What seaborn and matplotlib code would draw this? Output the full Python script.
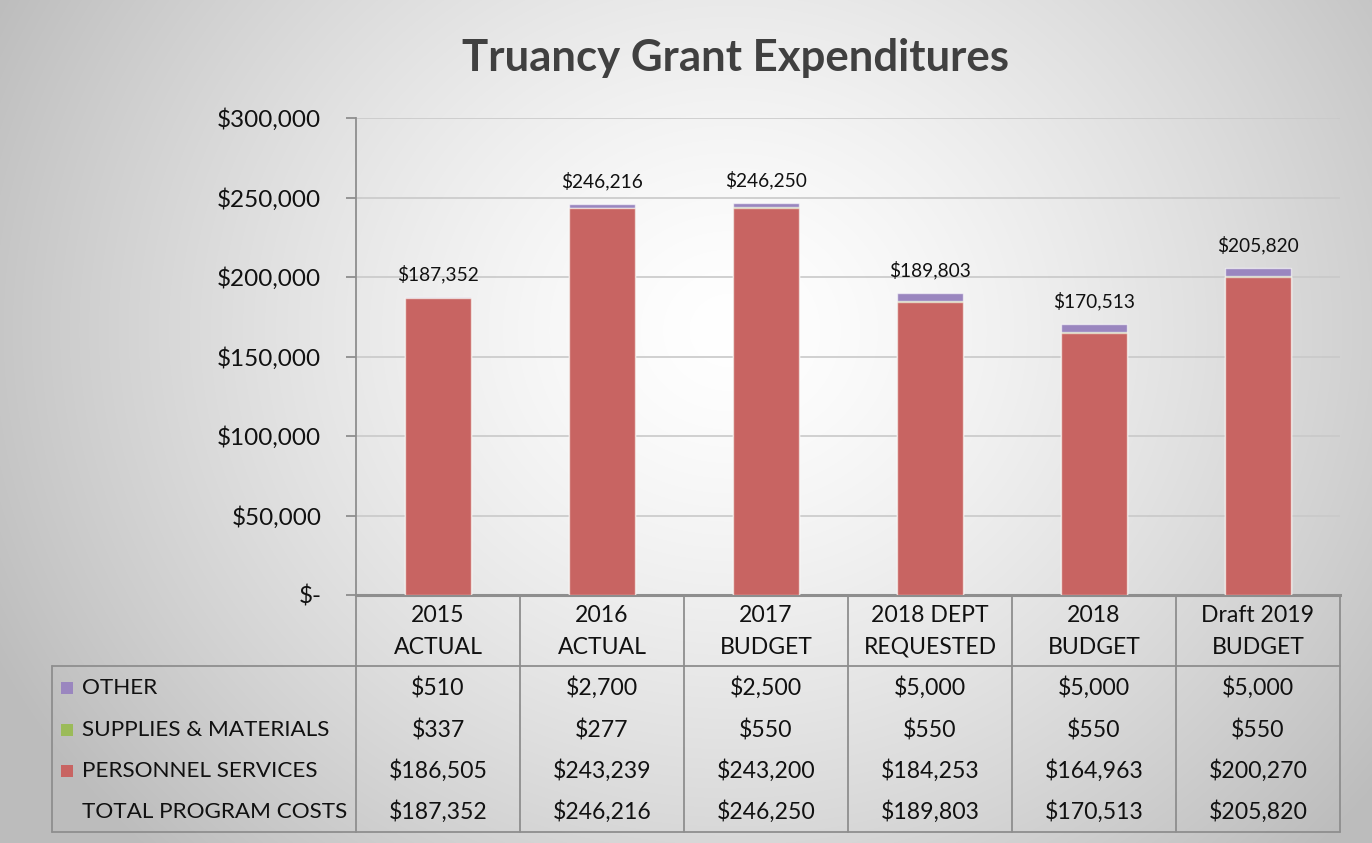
import numpy as np
import pandas as pd
import matplotlib
matplotlib.use("Agg")
import matplotlib.pyplot as plt
import matplotlib.transforms as mtransforms
from matplotlib.lines import Line2D
from matplotlib.patches import Rectangle
import seaborn as sns

# ---------------- data ----------------
categories = ["2015\nACTUAL", "2016\nACTUAL", "2017\nBUDGET",
              "2018 DEPT\nREQUESTED", "2018\nBUDGET", "Draft 2019\nBUDGET"]
other = [510, 2700, 2500, 5000, 5000, 5000]
supplies = [337, 277, 550, 550, 550, 550]
personnel = [186505, 243239, 243200, 184253, 164963, 200270]
totals = [187352, 246216, 246250, 189803, 170513, 205820]
series_names = ["OTHER", "SUPPLIES & MATERIALS", "PERSONNEL SERVICES", "TOTAL PROGRAM COSTS"]
y_ticks = [0, 50000, 100000, 150000, 200000, 250000, 300000]
title = "Truancy Grant Expenditures"

# ---------------- style ----------------
sns.set_style("white")
plt.rcParams["font.family"] = ["Lato", "DejaVu Sans"]

C_OTHER = "#9A86BF"
C_SUP = "#9BBB59"
C_PERS = "#C86462"
GRID = "#c9c9c9"
LINE = "#8e8e8e"
TXT = "#111111"
FS = 16.6
FS_ROW = 16.2

W, H = 1372, 843
fig = plt.figure(figsize=(W / 100, H / 100), dpi=100)

# background radial gradient
bg = fig.add_axes([0, 0, 1, 1])
bg.set_zorder(-10)
yy, xx = np.mgrid[0:H, 0:W]
r = np.sqrt(((xx - 730) / 1.0) ** 2 + ((yy - 330) / 0.9) ** 2)
val = 1.0 - 0.26 * np.clip(r / 820, 0, 1) ** 1.4
bg.imshow(np.dstack([val, val, val]), extent=[0, W, H, 0], aspect="auto")
bg.set_xlim(0, W); bg.set_ylim(H, 0)
bg.axis("off")

def fx(x):
    return x / W

def fy(y):
    return 1 - y / H

ax_l, ax_r, ax_t, ax_b = 356, 1340, 118, 595
ax = fig.add_axes([fx(ax_l), fy(ax_b), (ax_r - ax_l) / W, (ax_b - ax_t) / H])
ax.patch.set_alpha(0)

df = pd.DataFrame({
    "cat": categories,
    "top": np.array(personnel) + np.array(supplies) + np.array(other),
    "mid": np.array(personnel) + np.array(supplies),
    "base": personnel,
})

bar_kw = dict(width=0.4, edgecolor=(1, 1, 1, 0.6), linewidth=1.0, ax=ax, zorder=3)
sns.barplot(data=df, x="cat", y="top", color=C_OTHER, saturation=1, **bar_kw)
sns.barplot(data=df, x="cat", y="mid", color=C_SUP, saturation=1, **bar_kw)
sns.barplot(data=df, x="cat", y="base", color=C_PERS, saturation=1, **bar_kw)

ax.set_xlim(-0.5, len(categories) - 0.5)
ax.set_ylim(0, 300000)
ax.set_yticks(y_ticks)
ax.set_yticklabels(["$-" if v == 0 else f"${v:,.0f}" for v in y_ticks], fontsize=17.5, color=TXT)
ax.set_xticks([])
ax.set_xlabel("")
ax.set_ylabel("")
ax.yaxis.grid(True, color=GRID, linewidth=1.2, zorder=0)
ax.set_axisbelow(True)
for s in ["top", "right"]:
    ax.spines[s].set_visible(False)
ax.spines["left"].set_color(LINE)
ax.spines["left"].set_linewidth(1.3)
ax.spines["bottom"].set_color(LINE)
ax.spines["bottom"].set_linewidth(2.2)
ax.tick_params(axis="y", which="major", direction="out", length=7, width=1.3,
               color=LINE, pad=18, left=True)

# data labels (totals)
for i, t in enumerate(totals):
    ax.annotate(f"${t:,.0f}", (i, t), xytext=(0, 16.5), textcoords="offset points",
                ha="center", va="center", fontsize=13.8, color=TXT, zorder=5)

# title
fig.text(fx(735), fy(58), title, ha="center", va="center", fontsize=31.5,
         fontweight="bold", color="#404040")

# ---------------- data table ----------------
blend = mtransforms.blended_transform_factory(ax.transData, fig.transFigure)
ncat = len(categories)
tab_left = 52
hdr_bot = 666
tab_bot = 832
row_y = [688, 730, 771, 812]

def fline(x0, y0, x1, y1, lw=1.3):
    fig.add_artist(Line2D([fx(x0), fx(x1)], [fy(y0), fy(y1)], color=LINE,
                          linewidth=lw, transform=fig.transFigure))

# vertical column boundaries (via data x)
for k in range(ncat + 1):
    xb = k - 0.5
    fig.add_artist(Line2D([xb, xb], [fy(ax_b), fy(tab_bot)], color=LINE,
                          linewidth=1.3, transform=blend, clip_on=False))
# horizontal lines
fig.add_artist(Line2D([-0.5, ncat - 0.5], [fy(hdr_bot), fy(hdr_bot)], color=LINE,
                      linewidth=1.3, transform=blend, clip_on=False))
fline(tab_left, hdr_bot, ax_l, hdr_bot)
fline(tab_left, tab_bot, ax_l, tab_bot)
fig.add_artist(Line2D([-0.5, ncat - 0.5], [fy(tab_bot), fy(tab_bot)], color=LINE,
                      linewidth=1.3, transform=blend, clip_on=False))
fline(tab_left, hdr_bot, tab_left, tab_bot)

# header labels
for i, c in enumerate(categories):
    l1, l2 = c.split("\n")
    fig.text(i, fy(616), l1, transform=blend, ha="center", va="center",
             fontsize=FS, color=TXT)
    fig.text(i, fy(647), l2, transform=blend, ha="center", va="center",
             fontsize=FS, color=TXT)

# row labels with legend keys
row_vals = [other, supplies, personnel, totals]
key_cols = [C_OTHER, C_SUP, C_PERS, None]
for name, vals, kc, yv in zip(series_names, row_vals, key_cols, row_y):
    if kc is not None:
        fig.add_artist(Rectangle((fx(61), fy(yv + 6)), 12 / W, 12 / H,
                                 facecolor=kc, edgecolor="none",
                                 transform=fig.transFigure))
    fig.text(fx(82), fy(yv), name, ha="left", va="center", fontsize=FS_ROW, color=TXT)
    for i, v in enumerate(vals):
        fig.text(i, fy(yv), f"${v:,.0f}", transform=blend, ha="center",
                 va="center", fontsize=FS, color=TXT)

fig.savefig("out.png", dpi=100)
